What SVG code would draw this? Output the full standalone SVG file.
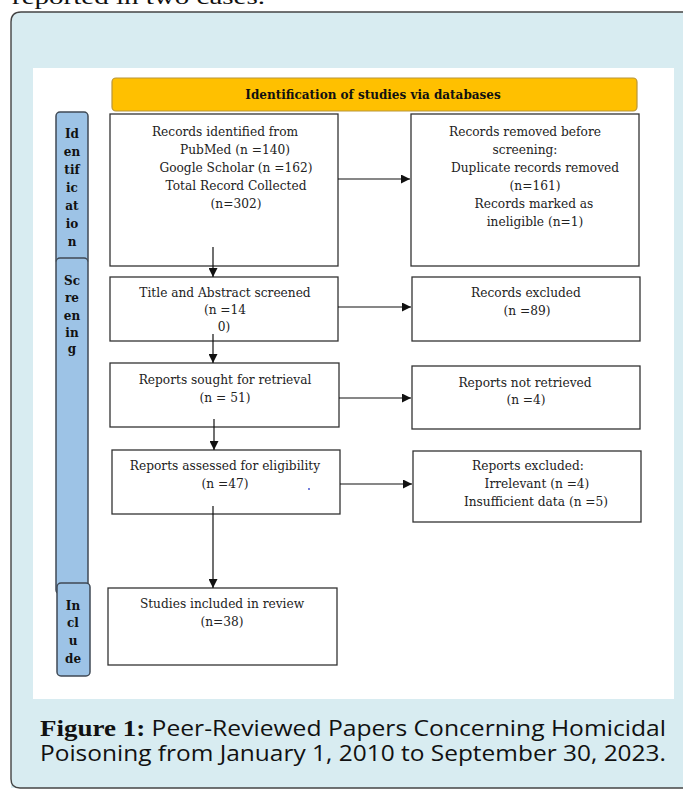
<svg xmlns="http://www.w3.org/2000/svg" width="683" height="790" viewBox="0 0 683 790">
<style>
.t{font-family:"DejaVu Serif","Liberation Serif",serif;font-size:12.2px;fill:#222;text-anchor:middle}
.s{font-family:"DejaVu Serif","Liberation Serif",serif;font-size:12px;font-weight:bold;fill:#111;text-anchor:middle}
.box{fill:#fff;stroke:#333;stroke-width:1.3}
.side{fill:#9dc3e6;stroke:#404a55;stroke-width:1.5}
.ln{stroke:#111;stroke-width:1.2;fill:none}
.cap{font-family:"Open Sans","Noto Sans","Liberation Sans",sans-serif;font-size:21px;fill:#111}
.capb{font-family:"Liberation Serif","DejaVu Serif",serif;font-weight:bold;font-size:23px}
</style>
<defs>
<marker id="ah" viewBox="0 0 10 10" refX="10" refY="5" markerWidth="9" markerHeight="9" markerUnits="userSpaceOnUse" orient="auto">
<path d="M0,0 L10,5 L0,10 z" fill="#111"/>
</marker>
</defs>
<rect width="683" height="790" fill="#fff"/>
<text x="12" y="4" font-family="Liberation Serif,serif" font-size="22" fill="#111" textLength="253" lengthAdjust="spacingAndGlyphs">reported in two cases.</text>
<path d="M11,788 L11,22 Q11,12 21,12 L690,12 L690,788 Z" fill="#d8ecf1" stroke="none"/>
<path d="M690,12 L21,12 Q11,12 11,22 L11,779 Q11,788 20,788 L690,788" fill="none" stroke="#444" stroke-width="1.4"/>
<rect x="33" y="68" width="641" height="631" fill="#fff"/>

<g id="header">
<rect x="112" y="78" width="525" height="33" rx="4" fill="#ffc000" stroke="#b8953a" stroke-width="1.2"/>
<text x="373" y="99" class="s">Identification of studies via databases</text>
</g>

<g id="side-identification">
<rect x="56" y="112" width="32" height="152" rx="4" class="side"/>
<text class="s"><tspan x="72" y="138">Id</tspan><tspan x="72" y="156">en</tspan><tspan x="72" y="174">tif</tspan><tspan x="72" y="192">ic</tspan><tspan x="72" y="210">at</tspan><tspan x="72" y="228">io</tspan><tspan x="72" y="246">n</tspan></text>
</g>
<g id="side-screening">
<rect x="56" y="258" width="32" height="336" rx="4" class="side"/>
<text class="s"><tspan x="72" y="285">Sc</tspan><tspan x="72" y="302">re</tspan><tspan x="72" y="320">en</tspan><tspan x="72" y="337">in</tspan><tspan x="72" y="353">g</tspan></text>
</g>
<g id="side-include">
<rect x="57" y="583" width="33" height="93" rx="4" class="side"/>
<text class="s"><tspan x="73" y="610">In</tspan><tspan x="73" y="627">cl</tspan><tspan x="73" y="645">u</tspan><tspan x="73" y="663">de</tspan></text>
</g>

<g id="records-identified">
<rect x="110" y="114" width="228" height="152" class="box"/>
<text class="t"><tspan x="225" y="136">Records identified from</tspan><tspan x="235" y="154">PubMed (n =140)</tspan><tspan x="236" y="172">Google Scholar (n =162)</tspan><tspan x="236" y="190">Total Record Collected</tspan><tspan x="236" y="208">(n=302)</tspan></text>
</g>
<g id="records-removed">
<rect x="411" y="114" width="228" height="152" class="box"/>
<text class="t"><tspan x="525" y="136">Records removed before</tspan><tspan x="525" y="154">screening:</tspan><tspan x="535" y="172">Duplicate records removed</tspan><tspan x="535" y="190">(n=161)</tspan><tspan x="534" y="208">Records marked as</tspan><tspan x="535" y="226">ineligible (n=1)</tspan></text>
</g>
<g id="title-abstract">
<rect x="110" y="277" width="228" height="64" class="box"/>
<text class="t"><tspan x="225" y="297">Title and Abstract screened</tspan><tspan x="225" y="314">(n =14</tspan><tspan x="224" y="331">0)</tspan></text>
</g>
<g id="records-excluded">
<rect x="412" y="277" width="228" height="64" class="box"/>
<text class="t"><tspan x="526" y="297">Records excluded</tspan><tspan x="527" y="315">(n =89)</tspan></text>
</g>
<g id="reports-sought">
<rect x="110" y="363" width="229" height="64" class="box"/>
<text class="t"><tspan x="225" y="384">Reports sought for retrieval</tspan><tspan x="225" y="402">(n = 51)</tspan></text>
</g>
<g id="reports-not-retrieved">
<rect x="412" y="366" width="228" height="63" class="box"/>
<text class="t"><tspan x="525" y="387">Reports not retrieved</tspan><tspan x="526" y="404">(n =4)</tspan></text>
</g>
<g id="reports-assessed">
<rect x="112" y="450" width="228" height="64" class="box"/>
<text class="t"><tspan x="225" y="470">Reports assessed for eligibility</tspan><tspan x="225" y="488">(n =47)</tspan></text>
<circle cx="309" cy="489" r="0.9" fill="#3344cc"/>
</g>
<g id="reports-excluded">
<rect x="413" y="451" width="228" height="71" class="box"/>
<text class="t"><tspan x="528" y="470">Reports excluded:</tspan><tspan x="537" y="488">Irrelevant (n =4)</tspan><tspan x="536" y="506">Insufficient data (n =5)</tspan></text>
</g>
<g id="studies-included">
<rect x="108" y="588" width="229" height="77" class="box"/>
<text class="t"><tspan x="222" y="608">Studies included in review</tspan><tspan x="222" y="626">(n=38)</tspan></text>
</g>

<g id="connectors">
<line x1="338" y1="179" x2="410" y2="179" class="ln" marker-end="url(#ah)"/>
<line x1="338" y1="307" x2="411" y2="307" class="ln" marker-end="url(#ah)"/>
<line x1="339" y1="398" x2="411" y2="398" class="ln" marker-end="url(#ah)"/>
<line x1="340" y1="484" x2="412" y2="484" class="ln" marker-end="url(#ah)"/>
<line x1="213" y1="247" x2="213" y2="277" class="ln" marker-end="url(#ah)"/>
<line x1="213" y1="334" x2="213" y2="363" class="ln" marker-end="url(#ah)"/>
<line x1="214" y1="419" x2="214" y2="450" class="ln" marker-end="url(#ah)"/>
<line x1="213" y1="506" x2="213" y2="588" class="ln" marker-end="url(#ah)"/>
</g>

<text class="cap" x="40" y="736" textLength="626" lengthAdjust="spacingAndGlyphs"><tspan class="capb">Figure 1:</tspan> Peer-Reviewed Papers Concerning Homicidal</text>
<text class="cap" x="40" y="761" textLength="626" lengthAdjust="spacingAndGlyphs">Poisoning from January 1, 2010 to September 30, 2023.</text>
</svg>
